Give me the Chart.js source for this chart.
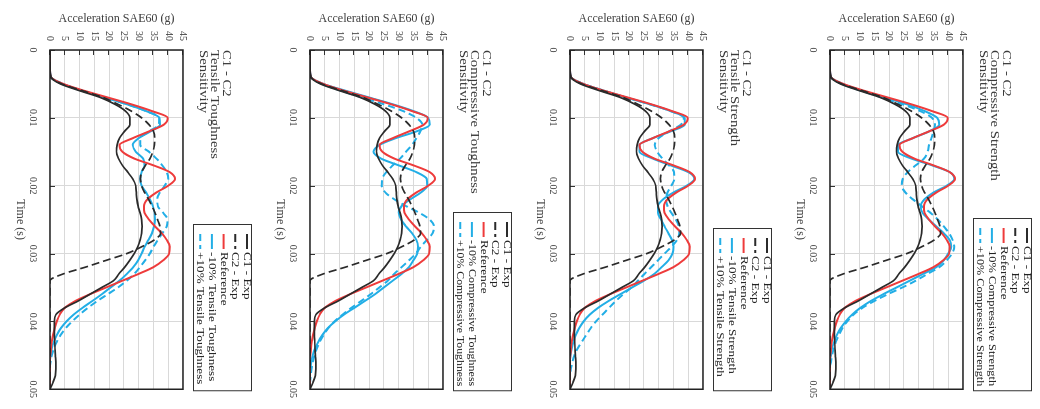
<!DOCTYPE html>
<html>
<head>
<meta charset="utf-8">
<script src="https://cdn.jsdelivr.net/npm/chart.js@4.4.1/dist/chart.umd.min.js"></script>
<style>
  html, body { margin: 0; padding: 0; background: #fff; }
  body { width: 1040px; height: 409px; overflow: hidden; position: relative; }
  /* the source figure lies on its side: build the panels upright, then turn the stack 90deg clockwise */
  #stack { position: absolute; left: 0; top: 0; width: 409px; height: 1040px;
           transform-origin: 0 0; transform: translateX(1040px) rotate(90deg); }
  .panel { width: 409px; height: 260px; }
  canvas { display: block; }
</style>
</head>
<body>
<div id="stack">
  <div class="panel"><canvas id="p0" width="409" height="260"></canvas></div>
  <div class="panel"><canvas id="p1" width="409" height="260"></canvas></div>
  <div class="panel"><canvas id="p2" width="409" height="260"></canvas></div>
  <div class="panel"><canvas id="p3" width="409" height="260"></canvas></div>
</div>
<script>
// time (s)
const timeS = [0, 0.001, 0.002, 0.003, 0.004, 0.005, 0.006, 0.007, 0.008, 0.009,
  0.01, 0.011, 0.012, 0.013, 0.014, 0.015, 0.016, 0.017, 0.018, 0.019,
  0.02, 0.021, 0.022, 0.023, 0.024, 0.025, 0.026, 0.027, 0.028, 0.029,
  0.03, 0.031, 0.032, 0.033, 0.034, 0.035, 0.036, 0.037, 0.038, 0.039,
  0.04, 0.041, 0.042, 0.043, 0.044, 0.045, 0.046, 0.047, 0.048, 0.049, 0.05];

// acceleration SAE60 (g), same in every panel
const c1Exp = [0, 0, 0, 0, 0.3, 3.5, 10, 17, 22, 25.5,
  27, 27, 25.2, 23.5, 22.7, 22.5, 23.2, 24.5, 26.3, 28,
  29, 29.2, 29.4, 29.8, 30.5, 31, 31.2, 31, 30.5, 29.7,
  28.5, 27, 25.3, 23.3, 21.5, 17.5, 13.5, 9.5, 5, 2,
  1.5, 1.5, 1.5, 1.6, 1.7, 1.8, 2, 2, 1.8, 1, 0];
const c2Exp = [0, 0, 0, 0, 0.3, 4, 11, 18, 23, 27.5,
  31, 33.5, 35, 35.4, 35.3, 34.8, 33.8, 32.3, 31, 30.6,
  31, 32, 33.3, 34.5, 35.5, 36.4, 37.2, 37.4, 35.3, 31,
  26, 19, 12, 4.5, 0, 0, 0, 0, 0, 0,
  0, 0, 0, 0, 0, 0, 0, 0, 0, 0, 0];
const reference = [0, 0, 0, 0, 0.3, 4.5, 11.5, 19.5, 27.5, 34.5,
  39.8, 38.5, 33.5, 28, 23.5, 24.5, 28.5, 35, 40.5, 42.3,
  40, 36, 33, 31.8, 32, 33.5, 35.5, 37.8, 39.5, 40.5,
  40.3, 38.3, 35, 30, 24.5, 19, 13.5, 8.5, 5, 3.3,
  2.3, 1.6, 1, 0.6, 0.3, 0.1, 0, 0, 0, 0, 0];

// -10% / +10% runs
const csMinus = [0, 0, 0, 0, 0.3, 4.3, 11, 18.5, 26, 32,
  36.3, 37, 33.5, 28, 23, 23, 27.5, 34.5, 40.5, 42,
  39.5, 35, 32, 30.7, 31.3, 33.5, 36, 38.5, 40.5, 41,
  40, 38.5, 36, 31.5, 27, 22.5, 18, 13.8, 10.3, 7.5,
  5.3, 3.6, 2.3, 1.4, 0.7, 0.3, 0, 0, 0, 0, 0];
const csPlus = [0, 0, 0, 0, 0.3, 4, 10.5, 17.5, 24.5, 30.5,
  34.5, 35.5, 35, 34.3, 33.5, 33, 31.8, 29, 26.3, 24.6,
  24.3, 25.5, 28, 31, 34, 36.5, 38.5, 40.3, 41.5, 42,
  41.3, 39.5, 37, 33, 29, 24.5, 19.5, 15, 11, 8,
  5.8, 4.2, 3, 2, 1.3, 0.7, 0.3, 0, 0, 0, 0];
const tsMinus = [0, 0, 0, 0, 0.3, 4.5, 11.5, 19, 27, 34,
  38.8, 38.8, 34, 28, 23.5, 23.5, 28, 34, 40, 42,
  39.5, 35, 31.5, 29.8, 29.8, 30.8, 32, 33.3, 34.5, 35,
  34.7, 33.3, 31, 28.5, 25, 21, 17, 13, 9.5, 6.7,
  4.6, 3.1, 2, 1.2, 0.6, 0.2, 0, 0, 0, 0, 0];
const tsPlus = [0, 0, 0, 0, 0.3, 4.5, 11.5, 19, 27, 34,
  38.5, 37.5, 33.5, 30, 28.7, 29.5, 31.3, 33.5, 35.2, 35.3,
  34.3, 33, 32.5, 33, 34.3, 35.8, 36.8, 37, 36.2, 34.3,
  32, 29.8, 27.5, 25.2, 23, 20.8, 18, 15.5, 13.2, 11,
  8.8, 7, 5.5, 4, 2.6, 1.5, 0.8, 0.3, 0, 0, 0];
const ctMinus = [0, 0, 0, 0, 0.3, 4.5, 12, 20, 28, 35,
  40, 40.5, 36, 29, 23.5, 21.5, 24, 30, 36, 39.5,
  39.7, 37.5, 34, 31, 30, 30.8, 32.5, 34.5, 36, 36.5,
  36.3, 35, 33.5, 31, 28, 25, 22, 18.5, 15, 11.5,
  8.5, 6, 4.2, 2.8, 1.7, 0.9, 0.4, 0.1, 0, 0, 0];
const ctPlus = [0, 0, 0, 0, 0.3, 4, 10.5, 17.5, 25, 31.5,
  36, 38, 37.3, 36, 34.5, 32.5, 30.5, 28, 25.8, 24.4,
  24.3, 25.5, 28.5, 32.5, 37, 40.5, 42, 41.5, 39.5, 37.5,
  35.8, 33.5, 31, 28.5, 26.3, 23.5, 20.5, 17.3, 14, 11,
  8.3, 6.2, 4.6, 3.3, 2.3, 1.5, 0.9, 0.5, 0.2, 0, 0];
const ttMinus = [0, 0, 0, 0, 0.3, 4.3, 11, 18.5, 26, 32.5,
  37, 37.2, 34, 30, 28, 29, 31.5, 32, 31, 30.5,
  31, 32.5, 33.8, 34.8, 35.4, 35.5, 35.2, 34.5, 33.3, 32,
  31, 29.8, 28.2, 26, 23.5, 20.5, 17.5, 14.3, 11, 8,
  5.6, 3.7, 2.3, 1.3, 0.6, 0.2, 0, 0, 0, 0, 0];
const ttPlus = [0, 0, 0, 0, 0.3, 4.3, 11, 18.5, 26, 32.5,
  37, 36.8, 33.5, 30.5, 30.5, 33.5, 36, 38, 39.5, 40,
  38.8, 37.2, 36.3, 36.5, 38.3, 39.8, 39.5, 38, 36.5, 35,
  33.8, 32.2, 30.4, 28.5, 26, 23, 19.5, 16, 12.8, 10,
  7.5, 5.3, 3.6, 2.3, 1.3, 0.6, 0.2, 0, 0, 0, 0];

const accelTicks = [0, 5, 10, 15, 20, 25, 30, 35, 40, 45];

// top of the stack ends up on the right after the turn
const panels = [
  { id: "p0", name: "Compressive Strength", minus: csMinus, plus: csPlus, boxLeft: 218 },
  { id: "p1", name: "Tensile Strength", minus: tsMinus, plus: tsPlus, boxLeft: 228 },
  { id: "p2", name: "Compressive Toughness", minus: ctMinus, plus: ctPlus, boxLeft: 212 },
  { id: "p3", name: "Tensile Toughness", minus: ttMinus, plus: ttPlus, boxLeft: 224 },
];

const SERIF = '"Liberation Serif", "Times New Roman", serif';
const BLACK = "#2b2b2b";
const RED = "#ee3b3b";
const BLUE = "#22aee6";

const pts = (vals) => timeS.map((t, i) => ({ x: t, y: vals[i] }));

function stretchText(ctx, text, x, y, sx) {
  ctx.save();
  ctx.translate(x, y);
  ctx.scale(sx, 1);
  ctx.fillText(text, 0, 0);
  ctx.restore();
}

// frame, inner tick marks, title block and boxed legend
const decor = {
  id: "decor",
  afterDatasetsDraw(chart, args, opts) {
    const { ctx, chartArea: a } = chart;
    const xs = chart.scales.x, ys = chart.scales.y;
    ctx.save();

    ctx.strokeStyle = "#333";
    ctx.lineWidth = 1;
    ctx.beginPath();
    ys.ticks.forEach((t) => {
      const py = Math.round(ys.getPixelForValue(t.value)) + 0.5;
      ctx.moveTo(a.left, py);
      ctx.lineTo(a.left + 5, py);
    });
    xs.ticks.forEach((t) => {
      const px = Math.round(xs.getPixelForValue(t.value)) + 0.5;
      ctx.moveTo(px, a.bottom);
      ctx.lineTo(px, a.bottom - 5);
    });
    ctx.stroke();

    ctx.lineWidth = 1.5;
    ctx.strokeStyle = "#222";
    ctx.strokeRect(a.left, a.top, a.right - a.left, a.bottom - a.top);

    // title
    ctx.fillStyle = "#3a3a3a";
    ctx.font = "12px " + SERIF;
    ctx.textBaseline = "middle";
    ctx.textAlign = "left";
    opts.title.forEach((line, i) => stretchText(ctx, line, a.left, 34 + i * 11.5, 1.23));

    // legend
    const right = a.right + 1;
    const left = opts.boxLeft;
    ctx.lineWidth = 1;
    ctx.strokeStyle = "#333";
    ctx.strokeRect(left + 0.5, 8.5, right - left, 58);
    ctx.font = "11px " + SERIF;
    ctx.fillStyle = "#222";
    const textX = left + 28;
    chart.data.datasets.forEach((ds, i) => {
      const yy = 13 + i * 11.7;
      ctx.save();
      ctx.strokeStyle = ds.borderColor;
      ctx.lineWidth = 2;
      ctx.setLineDash(ds.borderDash || []);
      ctx.beginPath();
      ctx.moveTo(left + 10, yy);
      ctx.lineTo(left + 25, yy);
      ctx.stroke();
      ctx.restore();
      const w = ctx.measureText(ds.label).width;
      const sx = Math.min(1.2, (right - 4 - textX) / w);
      stretchText(ctx, ds.label, textX, yy, sx);
    });

    ctx.restore();
  },
};

panels.forEach((p) => {
  const line = { pointRadius: 0, fill: false, cubicInterpolationMode: "monotone" };
  new Chart(document.getElementById(p.id), {
    type: "line",
    data: {
      datasets: [
        { ...line, label: "C1 - Exp", data: pts(c1Exp), borderColor: BLACK, borderWidth: 1.7 },
        { ...line, label: "C2 - Exp", data: pts(c2Exp), borderColor: BLACK, borderWidth: 1.7, borderDash: [8, 4] },
        { ...line, label: "Reference", data: pts(reference), borderColor: RED, borderWidth: 2 },
        { ...line, label: "-10% " + p.name, data: pts(p.minus), borderColor: BLUE, borderWidth: 2 },
        { ...line, label: "+10% " + p.name, data: pts(p.plus), borderColor: BLUE, borderWidth: 2, borderDash: [7, 4] },
      ],
    },
    options: {
      responsive: false,
      animation: false,
      events: [],
      layout: { padding: { top: 77, right: 9, left: 0, bottom: 0 } },
      scales: {
        x: {
          type: "linear",
          min: 0,
          max: 0.05,
          afterFit: (s) => { s.height = 50; },
          grid: { color: "#d9d9d9", lineWidth: 1, drawTicks: false },
          border: { display: false },
          ticks: {
            stepSize: 0.01,
            padding: 11,
            autoSkip: false,
            color: "#404040",
            font: { family: SERIF, size: 10 },
            callback: (v) => String(+v.toFixed(2)),
          },
          title: {
            display: true,
            text: "Time (s)",
            color: "#404040",
            font: { family: SERIF, size: 12 },
            padding: { top: 0, bottom: 13 },
          },
        },
        y: {
          min: 0,
          max: 45,
          afterFit: (s) => { s.width = 50; },
          afterBuildTicks: (s) => { s.ticks = accelTicks.map((v) => ({ value: v })); },
          grid: { color: "#d9d9d9", lineWidth: 1, drawTicks: false },
          border: { display: false },
          ticks: {
            padding: 9,
            autoSkip: false,
            color: "#404040",
            font: { family: SERIF, size: 10 },
          },
          title: {
            display: true,
            text: "Acceleration SAE60 (g)",
            color: "#404040",
            font: { family: SERIF, size: 12 },
            padding: { top: 12, bottom: 0 },
          },
        },
      },
      plugins: {
        legend: { display: false },
        tooltip: { enabled: false },
        decor: { title: ["C1 - C2", p.name, "Sensitivity"], boxLeft: p.boxLeft },
      },
    },
    plugins: [decor],
  });
});
</script>
</body>
</html>
